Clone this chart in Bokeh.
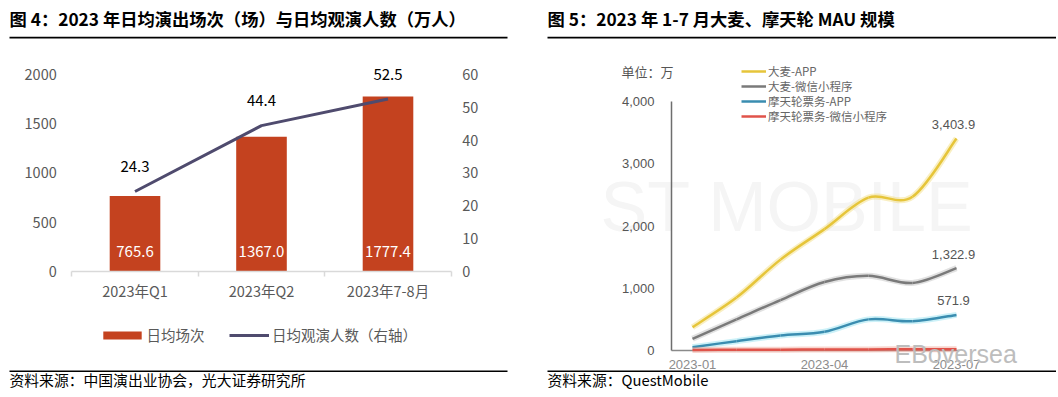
from bokeh.plotting import figure
from bokeh.layouts import row
from bokeh.models import (LinearAxis, Range1d, FixedTicker, Label, BoxAnnotation,
                          Legend, LegendItem, NumeralTickFormatter)
from bokeh.embed import file_html
from bokeh.resources import INLINE
from bokeh.core.properties import value

# ---------------- data: figure 4 ----------------
categories = ["2023年Q1", "2023年Q2", "2023年7-8月"]
daily_shows = [765.6, 1367.0, 1777.4]          # 日均场次（场）
daily_audience = [24.3, 44.4, 52.5]            # 日均观演人数（万人）
left_ticks = [0, 500, 1000, 1500, 2000]
right_ticks = [0, 10, 20, 30, 40, 50, 60]

# ---------------- data: figure 5 ----------------
months = ["2023-01", "2023-02", "2023-03", "2023-04", "2023-05", "2023-06", "2023-07"]
damai_app = [375, 850, 1460, 1950, 2455, 2470, 3403.9]
damai_mini = [188, 500, 810, 1100, 1200, 1085, 1322.9]
mtl_app = [53, 150, 240, 300, 500, 470, 571.9]
mtl_mini = [10, 12, 14, 16, 18, 20, 22]
month_tick_labels = ["2023-01", "2023-04", "2023-07"]
mau_ticks = [0, 1000, 2000, 3000, 4000]
series_names = ["大麦-APP", "大麦-微信小程序", "摩天轮票务-APP", "摩天轮票务-微信小程序"]

CJK = "Noto Sans CJK SC"
LAT = "Liberation Sans"
OX, OY = 1, 1          # page position of the canvas
H = 395
W1 = 529               # left panel: page x 1..530
P2X = OX + W1          # right panel starts at page x 530
W2 = 527


def fb(page_y):
    """page y -> screen y measured from frame bottom"""
    return H - (page_y - OY)


def screen_box(p, left, right, top, bottom, color="black"):
    p.add_layout(BoxAnnotation(left=left, right=right, top=top, bottom=bottom,
                               left_units="screen", right_units="screen",
                               top_units="screen", bottom_units="screen",
                               fill_color=color, fill_alpha=1.0, line_color=None))


def base_fig(w, xr, yr):
    p = figure(width=w, height=H, x_range=xr, y_range=yr, x_axis_type=None, y_axis_type=None,
               output_backend="svg", toolbar_location=None, min_border=0,
               outline_line_color=None, background_fill_color="white", border_fill_color="white")
    if p.title is not None:
        p.title.visible = False
    return p


def style_axis(ax, standoff, font, size, color):
    ax.major_tick_line_color = None
    ax.minor_tick_line_color = None
    ax.major_tick_out = 0
    ax.major_tick_in = 0
    ax.major_label_standoff = standoff
    ax.major_label_text_font = font
    ax.major_label_text_font_size = size
    ax.major_label_text_color = color


# ================= left panel =================
px_cat = 126.5
x0_screen = 72.25 - OX
sy = 196.7 / 2000.0
zero_y = 271.7 - OY
xr1 = Range1d(-x0_screen / px_cat, (W1 - x0_screen) / px_cat)
yr1 = Range1d(-(H - zero_y) / sy, zero_y / sy)
p1 = base_fig(W1, xr1, yr1)
p1.extra_y_ranges = {"r": Range1d(yr1.start * 60 / 2000, yr1.end * 60 / 2000)}

n = len(categories)
xs = [i + 0.5 for i in range(n)]

ax_l = LinearAxis(fixed_location=0, ticker=FixedTicker(ticks=left_ticks))
ax_r = LinearAxis(fixed_location=n, y_range_name="r", ticker=FixedTicker(ticks=right_ticks))
for ax, st in ((ax_l, 15), (ax_r, 11)):
    ax.axis_line_color = None
    style_axis(ax, st, CJK, "14.5px", "#595959")
p1.add_layout(ax_l, "left")
p1.add_layout(ax_r, "right")

ax_b = LinearAxis(fixed_location=0, ticker=FixedTicker(ticks=list(range(n + 1))), bounds=(0, n))
ax_b.axis_line_color = "#D9D9D9"
ax_b.axis_line_width = 1.5
ax_b.major_tick_line_color = "#D9D9D9"
ax_b.major_tick_line_width = 1.5
ax_b.major_tick_out = 5
ax_b.major_tick_in = 0
ax_b.minor_tick_line_color = None
ax_b.major_label_text_color = None
p1.add_layout(ax_b, "below")

ax_c = LinearAxis(fixed_location=0, ticker=FixedTicker(ticks=xs),
                  major_label_overrides={x: c for x, c in zip(xs, categories)})
ax_c.axis_line_color = None
style_axis(ax_c, 9, CJK, "14.5px", "#595959")
p1.add_layout(ax_c, "below")

bar_r = p1.vbar(x=xs, top=daily_shows, width=0.4, fill_color="#C4421F", line_color=None)
line_r = p1.line(x=xs, y=daily_audience, y_range_name="r", line_color="#4F4B6E", line_width=3)

p1.text(x=xs, y=[0] * n, text=[f"{v:.1f}" for v in daily_shows], y_offset=-20,
        text_color="white", text_font=value(CJK), text_font_size="15px",
        text_align="center", text_baseline="middle")
p1.text(x=xs, y=daily_audience, y_range_name="r", text=[f"{v:.1f}" for v in daily_audience],
        y_offset=-25, text_color="black", text_font=value(CJK), text_font_size="15px",
        text_align="center", text_baseline="middle")

leg_kw = dict(orientation="horizontal", padding=0, margin=0, spacing=0, border_line_color=None,
              background_fill_alpha=0, label_text_font=CJK, label_text_font_size="14.5px",
              label_text_color="#595959")
leg1 = Legend(items=[LegendItem(label="日均场次", renderers=[bar_r])], location=(104.2 - 4.8 - OX, fb(336) - 10),
              glyph_width=48, glyph_height=10, label_standoff=0, **leg_kw)
leg2 = Legend(items=[LegendItem(label="日均观演人数（右轴）", renderers=[line_r])], location=(230 - OX, fb(336) - 10),
              glyph_width=40, glyph_height=10, label_standoff=3, **leg_kw)
p1.add_layout(leg1)
p1.add_layout(leg2)

p1.add_layout(Label(x=10 - OX, y=fb(19), x_units="screen", y_units="screen",
                    text="图 4：2023 年日均演出场次（场）与日均观演人数（万人）",
                    text_font=CJK, text_font_size="17.3px", text_font_style="bold",
                    text_color="black", text_baseline="middle"))
screen_box(p1, 10 - OX, 508 - OX, fb(37.2), fb(38.9))
screen_box(p1, 10 - OX, 508 - OX, fb(371), fb(372.6))
p1.add_layout(Label(x=10 - OX, y=fb(380), x_units="screen", y_units="screen",
                    text="资料来源：中国演出业协会，光大证券研究所",
                    text_font=CJK, text_font_size="14.8px", text_color="black",
                    text_baseline="middle"))

# ================= right panel =================
pxm = 44.0
m0_screen = 693 - P2X
sy2 = 249.0 / 4000.0
zero_y2 = 351 - OY
xr2 = Range1d(-m0_screen / pxm, (W2 - m0_screen) / pxm)
yr2 = Range1d(-(H - zero_y2) / sy2, zero_y2 / sy2)
p2 = base_fig(W2, xr2, yr2)

yaxis_x = (672 - 693) / pxm
p2.add_layout(Label(x=601 - P2X, y=fb(207), x_units="screen", y_units="screen", text="ST MOBILE",
                    text_font=LAT, text_font_size="70px", text_color="#F5F5F5",
                    text_baseline="middle", level="underlay"))

ay = LinearAxis(fixed_location=yaxis_x, ticker=FixedTicker(ticks=mau_ticks), bounds=(0, mau_ticks[-1]),
                formatter=NumeralTickFormatter(format="0,0"))
ay.axis_line_color = "#6E6E6E"
ay.axis_line_width = 1.5
style_axis(ay, 17, LAT, "13px", "#555555")
p2.add_layout(ay, "left")

mt = [months.index(m) for m in month_tick_labels]
axx = LinearAxis(fixed_location=0, ticker=FixedTicker(ticks=mt), bounds=(yaxis_x, len(months) - 1 + 0.07),
                 major_label_overrides={i: months[i] for i in mt})
axx.axis_line_color = "#8A8A8A"
axx.axis_line_width = 1.5
style_axis(axx, 9, LAT, "13px", "#8C8C8C")
axx.level = "underlay"
p2.add_layout(axx, "below")

mx = list(range(len(months)))
colors = ["#E6C53A", "#7A7A7A", "#3A8DB0", "#E0534A"]
glow = ["#F2DC7A", "#BDBDBD", "#8FE0F0", "#F0A090"]
series = [damai_app, damai_mini, mtl_app, mtl_mini]


def bez(xv, yv):
    k = len(xv)
    pts = list(zip(xv, yv))
    d = dict(x0=[], y0=[], x1=[], y1=[], cx0=[], cy0=[], cx1=[], cy1=[])
    for i in range(k - 1):
        pm, pa, pb, pn = pts[max(i - 1, 0)], pts[i], pts[i + 1], pts[min(i + 2, k - 1)]
        d["x0"].append(pa[0]); d["y0"].append(pa[1]); d["x1"].append(pb[0]); d["y1"].append(pb[1])
        d["cx0"].append(pa[0] + (pb[0] - pm[0]) / 6); d["cy0"].append(pa[1] + (pb[1] - pm[1]) / 6)
        d["cx1"].append(pb[0] - (pn[0] - pa[0]) / 6); d["cy1"].append(pb[1] - (pn[1] - pa[1]) / 6)
    return d


row_y = [69, 84, 99, 114]
for s, c, g, name, ry in zip(series, colors, glow, series_names, row_y):
    b = bez(mx, s)
    p2.bezier(**b, line_color=g, line_width=6, line_alpha=0.45)
    p2.bezier(**b, line_color=c, line_width=2.5)
    lr = p2.line(x=mx, y=s, line_color=c, line_width=2.5, visible=False)
    lg = Legend(items=[LegendItem(label=name, renderers=[lr])], location=(742 - P2X, fb(ry) - 10.5),
                orientation="horizontal", padding=0, margin=0, spacing=0,
                glyph_width=25, glyph_height=16, label_height=16, label_standoff=2,
                border_line_color=None, background_fill_alpha=0, label_text_font=CJK,
                label_text_font_size="11.5px", label_text_color="#666666")
    p2.add_layout(lg)

last = len(months) - 1
lab_vals = [damai_app[last], damai_mini[last], mtl_app[last]]
p2.text(x=[last] * 3, y=lab_vals, text=[f"{v:,.1f}" for v in lab_vals], x_offset=-3, y_offset=-14,
        text_color="#555555", text_font=value(LAT), text_font_size="13px",
        text_align="center", text_baseline="middle")

p2.add_layout(Label(x=622 - P2X, y=fb(72), x_units="screen", y_units="screen", text="单位：万",
                    text_font=CJK, text_font_size="13px", text_color="#555555", text_baseline="middle"))

p2.add_layout(Label(x=895 - P2X, y=fb(354), x_units="screen", y_units="screen", text="EBoversea",
                    text_font=LAT, text_font_size="25px", text_color="#BDBDBD", text_baseline="middle"))

p2.add_layout(Label(x=548 - P2X, y=fb(19), x_units="screen", y_units="screen",
                    text="图 5：2023 年 1-7 月大麦、摩天轮 MAU 规模",
                    text_font=CJK, text_font_size="17.3px", text_font_style="bold",
                    text_color="black", text_baseline="middle"))
screen_box(p2, 548 - P2X, W2, fb(37.2), fb(38.9))
screen_box(p2, 0, W2, fb(372.6), 0, color="white")
screen_box(p2, 548 - P2X, W2, fb(371), fb(372.6))
p2.add_layout(Label(x=548 - P2X, y=fb(380), x_units="screen", y_units="screen",
                    text="资料来源：QuestMobile",
                    text_font=CJK, text_font_size="14.8px", text_color="black",
                    text_baseline="middle"))

layout = row(p1, p2)
open("out.html", "w").write(file_html(layout, INLINE))
